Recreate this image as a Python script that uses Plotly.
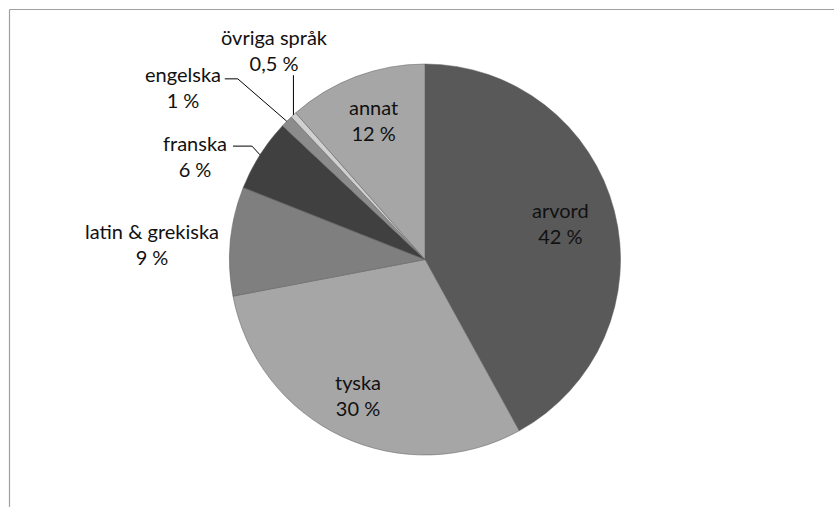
import math
import plotly.graph_objects as go

# ---- data ----
languages = ["arvord", "tyska", "latin & grekiska", "franska", "engelska", "övriga språk", "annat"]
shares = [42, 30, 9, 6, 1, 0.5, 11.5]
share_labels = ["42 %", "30 %", "9 %", "6 %", "1 %", "0,5 %", "12 %"]

# ---- style ----
colors = ["#595959", "#a6a6a6", "#7f7f7f", "#404040", "#8c8c8c", "#d0d0d0", "#a6a6a6"]
label_r = [0.72, 0.773, 1.40, 1.29, 1.52, 1.32, 0.76]        # label distance (fraction of radius)
label_dtheta = [-0.6, 1.1, -2.2, -8.2, -9.6, 6.5, 0.6]         # label angle shift (deg)
leader = [None, None, None, "elbow", "elbow", "vertical", None]
elbow_off = {3: (38, 57, -10), 4: (42, 55, -8.5)}             # (x_end, x_elbow, dy) rel. label centre
W, H = 834, 507
cx, cy, R = 425, 259.5, 195.5
FONT = "Lato"
FS = 20
TXT = "#111111"

fig = go.Figure(go.Pie(
    labels=languages, values=shares, sort=False, direction="clockwise", rotation=0,
    marker=dict(colors=colors, line=dict(color="#5a5a5a", width=0.5)),
    textinfo="none", hoverinfo="label+percent", showlegend=False,
    domain=dict(x=[(cx - R) / W, (cx + R) / W], y=[(H - cy - R) / H, (H - cy + R) / H]),
))

def px2paper(x, y):
    return x / W, 1 - y / H

total = sum(shares)
cum = 0.0
annotations = []
shapes = []
for i, (lab, v) in enumerate(zip(languages, shares)):
    mid = (cum + v / 2) / total * 360.0
    cum += v
    th = math.radians(mid + label_dtheta[i])
    lx = cx + label_r[i] * R * math.sin(th)
    ly = cy - label_r[i] * R * math.cos(th)
    ax, ay = px2paper(lx, ly)
    annotations.append(dict(
        x=ax, y=ay, xref="paper", yref="paper", showarrow=False,
        text=f"{lab}<br>{share_labels[i]}", align="center",
        font=dict(family=FONT, size=FS, color=TXT), xanchor="center", yanchor="middle",
    ))
    tm = math.radians(mid)
    ex = cx + R * math.sin(tm)
    ey = cy - R * math.cos(tm)
    if leader[i] == "elbow":
        x_end, x_elb, dy = elbow_off[i]
        pts = [(lx + x_end, ly + dy), (lx + x_elb, ly + dy), (ex, ey)]
    elif leader[i] == "vertical":
        pts = [(ex, ly + 25), (ex, ey)]
    else:
        pts = None
    if pts:
        pp = [px2paper(*p) for p in pts]
        path = "M " + " L ".join(f"{p[0]:.5f},{p[1]:.5f}" for p in pp)
        shapes.append(dict(type="path", path=path, xref="paper", yref="paper",
                           line=dict(color="#000000", width=1)))

# chart frame (top and left edges visible)
fx, fy = px2paper(9.5, 9.5)
shapes.append(dict(type="line", xref="paper", yref="paper", x0=fx, y0=fy, x1=1.01, y1=fy,
                   line=dict(color="#a0a0a0", width=1.2)))
shapes.append(dict(type="line", xref="paper", yref="paper", x0=fx, y0=fy, x1=fx, y1=-0.01,
                   line=dict(color="#a0a0a0", width=1.2)))

fig.update_layout(
    width=W, height=H, margin=dict(l=0, r=0, t=0, b=0),
    paper_bgcolor="white", plot_bgcolor="white",
    annotations=annotations, shapes=shapes,
    font=dict(family=FONT, size=FS, color=TXT),
)
fig.write_html("out.html", config={"displayModeBar": False},
               post_script="document.body.style.margin='0px';document.body.style.overflow='hidden';")
